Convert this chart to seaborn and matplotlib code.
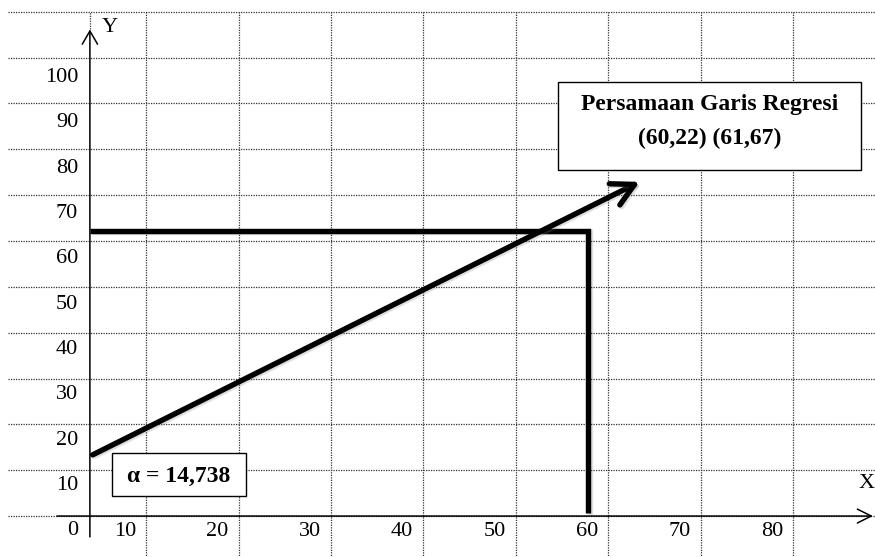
import matplotlib
matplotlib.use("Agg")
import matplotlib.pyplot as plt
import matplotlib.patheffects as pe
from matplotlib.patches import Rectangle
import numpy as np
import seaborn as sns

# label sumbu
x_ticks = [10, 20, 30, 40, 50, 60, 70, 80]
y_ticks = [0, 10, 20, 30, 40, 50, 60, 70, 80, 90, 100]

# garis regresi: titik awal -> ujung panah
reg_x = [6.5, 65.7]
reg_y = [16.2, 76.4]

# garis bantu ke X = 60
proj_x = [6.2, 60.1, 60.1]
proj_y = [65.6, 65.6, 3.4]

alpha_text = "α = 14,738"
box_title = "Persamaan Garis Regresi"
box_points = "(60,22) (61,67)"

# titik potong sumbu (gambar tangan, tidak tepat di 0,0)
x0, y0 = 6.2, 2.7

sns.set_theme(style="white")
plt.rcParams["font.family"] = ["Liberation Serif", "DejaVu Serif"]
plt.rcParams["text.color"] = "black"

fig = plt.figure(figsize=(8.75, 5.57), dpi=100)
ax = fig.add_axes([0, 0, 1, 1])
ax.set_xlim(-3.53, 91.17)
ax.set_ylim(-6.33, 116.5)

# tabel / grid titik-titik
grid_x = np.arange(12.3, 83, 10)
grid_y = np.linspace(2.7, 113.9, 12)
dots = dict(color="#333333", lw=0.9, linestyles=(0, (1, 1)), zorder=1)
ax.vlines(grid_x, -7, 113.9, **dots)
ax.vlines([x0], 110, 113.9, **dots)
ax.hlines(grid_y, -2.66, 92, **dots)

# sumbu
for s in ax.spines.values():
    s.set_visible(False)
ax.spines["left"].set_position(("data", x0))
ax.spines["bottom"].set_position(("data", y0))
ax.set_xticks(x_ticks)
ax.set_yticks(y_ticks)
ax.set_xticklabels([str(v) for v in x_ticks])
ax.set_yticklabels([str(v) for v in y_ticks])
ax.tick_params(axis="both", length=0, labelsize=16, labelcolor="black")
ax.tick_params(axis="y", pad=8.5)
ax.tick_params(axis="x", pad=4)

ax.annotate("", xy=(x0, 110.0), xytext=(x0, -1.9),
            arrowprops=dict(arrowstyle="->,head_length=0.95,head_width=0.55",
                            lw=1.1, color="black", shrinkA=0, shrinkB=0,
                            mutation_scale=10), zorder=3)
ax.annotate("", xy=(90.95, y0), xytext=(2.64, y0),
            arrowprops=dict(arrowstyle="->,head_length=1.0,head_width=0.5",
                            lw=1.1, color="black", shrinkA=0, shrinkB=0,
                            mutation_scale=10), zorder=3)
ax.text(8.4, 110.4, "Y", fontsize=16, ha="center", va="center")
ax.text(90.3, 9.8, "X", fontsize=16, ha="center", va="center")

shadow = [pe.SimpleLineShadow(offset=(1.2, -1.2), alpha=0.25, shadow_color="gray"),
          pe.Normal()]

# garis bantu
sns.lineplot(x=proj_x, y=proj_y, sort=False, estimator=None, color="black",
             lw=3.9, ax=ax, solid_joinstyle="miter", solid_capstyle="butt",
             path_effects=shadow, zorder=4)

# garis regresi dengan panah
ax.annotate("", xy=(reg_x[1], reg_y[1]), xytext=(reg_x[0], reg_y[0]),
            arrowprops=dict(arrowstyle="->,head_length=1.6,head_width=0.85",
                            lw=3.9, color="black", shrinkA=0, shrinkB=0,
                            mutation_scale=10, capstyle="round",
                            path_effects=shadow), zorder=4)

# kotak keterangan
ax.add_patch(Rectangle((8.6, 7.1), 14.5, 9.5, facecolor="white",
                       edgecolor="black", lw=1.0, zorder=5))
ax.text(15.8, 11.5, alpha_text, fontsize=17, fontweight="bold",
        ha="center", va="center", zorder=6)

ax.add_patch(Rectangle((56.9, 79.0), 32.8, 19.4, facecolor="white",
                       edgecolor="black", lw=1.0, zorder=5))
ax.text(73.3, 93.5, box_title, fontsize=17, fontweight="bold",
        ha="center", va="center", zorder=6)
ax.text(73.3, 86.0, box_points, fontsize=17, fontweight="bold",
        ha="center", va="center", zorder=6)

fig.savefig("out.png", dpi=100, facecolor="white")
